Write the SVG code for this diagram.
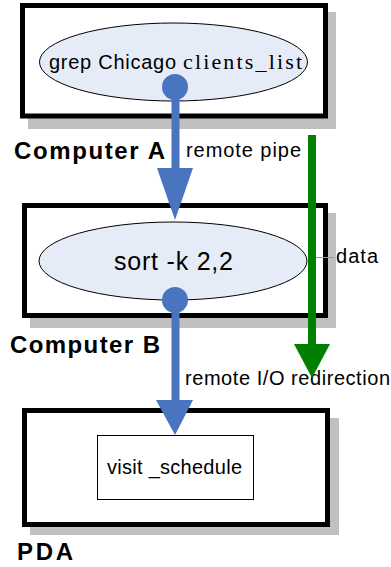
<svg xmlns="http://www.w3.org/2000/svg" width="391" height="567" viewBox="0 0 391 567">
<style>
.shadow{fill:#c0c0c0}
.box{fill:#fff;stroke:#000;stroke-width:5}
.ell{fill:#e6ecf7;stroke:#000;stroke-width:1}
.inner{fill:#fff;stroke:#000;stroke-width:1}
.sans{font-family:"Liberation Sans",Arial,sans-serif;fill:#000}
.serif{font-family:"Liberation Serif","Times New Roman",serif;fill:#000}
.bold{font-family:"Liberation Sans",Arial,sans-serif;font-weight:bold;fill:#000}
.blue{stroke:#4874c0;stroke-width:8;fill:none}
.bluef{fill:#4874c0}
.green{stroke:#008000;stroke-width:8;fill:none}
.greenf{fill:#008000}
</style>
<rect width="391" height="567" fill="#fff"/>
<g id="computerA">
  <rect class="shadow" x="28" y="12" width="308" height="117"/>
  <rect class="box" x="22.5" y="5.5" width="303" height="110.5"/>
  <ellipse class="ell" cx="173.5" cy="62" rx="134" ry="39"/>
  <text class="sans" x="49" y="69" font-size="20" textLength="127" lengthAdjust="spacing">grep Chicago</text>
  <text class="serif" x="183" y="69" font-size="22" textLength="119" lengthAdjust="spacing">clients_list</text>
  <text class="bold" x="14" y="159" font-size="24" textLength="151" lengthAdjust="spacing">Computer A</text>
</g>
<g id="computerB">
  <rect class="shadow" x="30" y="213" width="306" height="115"/>
  <rect class="box" x="24.5" y="205.5" width="301" height="110"/>
  <ellipse class="ell" cx="173" cy="261" rx="134" ry="39"/>
  <text class="sans" x="114" y="270" font-size="25" textLength="119" lengthAdjust="spacing">sort -k 2,2</text>
  <text class="bold" x="10" y="353" font-size="24" textLength="150" lengthAdjust="spacing">Computer B</text>
</g>
<g id="pda">
  <rect class="shadow" x="30" y="418" width="309" height="117"/>
  <rect class="box" x="24.5" y="410.5" width="303" height="114"/>
  <rect class="inner" x="97.5" y="435.5" width="156" height="64"/>
  <text class="sans" x="107" y="474" font-size="20" textLength="135" lengthAdjust="spacing">visit _schedule</text>
  <text class="bold" x="17" y="560" font-size="24" textLength="56" lengthAdjust="spacing">PDA</text>
</g>
<g id="connectors">
  <line class="blue" x1="175.5" y1="87" x2="175.5" y2="170"/>
  <circle class="bluef" cx="175" cy="87" r="13"/>
  <polygon class="bluef" points="157,168 193,168 175,220"/>
  <text class="sans" x="186" y="157" font-size="20" textLength="115" lengthAdjust="spacing">remote pipe</text>
  <line class="blue" x1="175.5" y1="300" x2="175.5" y2="402"/>
  <circle class="bluef" cx="175" cy="300" r="13"/>
  <polygon class="bluef" points="156,400 193,400 175,435"/>
  <text class="sans" x="185" y="385" font-size="20" textLength="205" lengthAdjust="spacing">remote I/O redirection</text>
  <line x1="308" y1="257.5" x2="334" y2="257.5" stroke="#999" stroke-width="1"/>
  <line class="green" x1="312" y1="135" x2="312" y2="346"/>
  <polygon class="greenf" points="294,344 330,344 312,378"/>
  <text class="sans" x="336" y="263" font-size="20" textLength="42" lengthAdjust="spacing">data</text>
</g>
</svg>
